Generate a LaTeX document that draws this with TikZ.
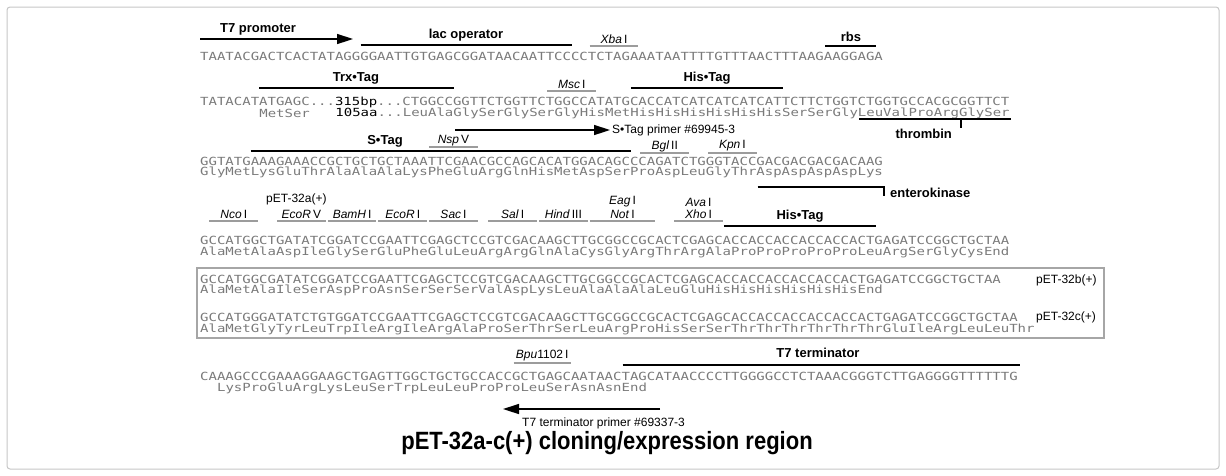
\documentclass[tikz,border=0pt]{standalone}
\usepackage{fontspec}
\setmainfont{Liberation Sans}
\setmonofont{DejaVu Sans Mono}
\usetikzlibrary{arrows.meta}
\definecolor{seqGray}{HTML}{7A7A7A}
\definecolor{siteGray}{HTML}{9C9C9C}
\newcommand{\ox}{200}
\newcommand{\bpw}{8.45}
\newcommand{\sq}[1]{\scalebox{1}[0.8]{#1}}

\begin{document}
\begin{tikzpicture}[x=1pt, y=-1pt,
  seq/.style={anchor=west, inner sep=0pt, text=seqGray, font=\fontsize{14}{14}\ttfamily},
  tag/.style={inner sep=0pt, font=\fontsize{13}{13}\selectfont\bfseries},
  enz/.style={inner sep=0pt, font=\fontsize{12}{12}\selectfont},
  note/.style={inner sep=0pt, anchor=west, font=\fontsize{12}{12}\selectfont},
  tagline/.style={line width=2pt},
  siteline/.style={draw=siteGray, line width=1.6pt},
  primer/.style={line width=1.5pt, -{Triangle[length=16pt,width=10pt]}}]
\useasboundingbox (0,0) rectangle (1226,475);
\draw[gray!45, line width=1pt, rounded corners=3pt] (7,7) rectangle (1219,469);

% sequences
\foreach \y/\txt [count=\i] in {
  56/{TAATACGACTCACTATAGGGGAATTGTGAGCGGATAACAATTCCCCTCTAGAAATAATTTTGTTTAACTTTAAGAAGGAGA},
  102/{TATACATATGAGC...\textcolor{black}{315bp}...CTGGCCGGTTCTGGTTCTGGCCATATGCACCATCATCATCATCATTCTTCTGGTCTGGTGCCACGCGGTTCT},
  161/{GGTATGAAAGAAACCGCTGCTGCTAAATTCGAACGCCAGCACATGGACAGCCCAGATCTGGGTACCGACGACGACGACAAG},
  240/{GCCATGGCTGATATCGGATCCGAATTCGAGCTCCGTCGACAAGCTTGCGGCCGCACTCGAGCACCACCACCACCACCACTGAGATCCGGCTGCTAA},
  279/{GCCATGGCGATATCGGATCCGAATTCGAGCTCCGTCGACAAGCTTGCGGCCGCACTCGAGCACCACCACCACCACCACTGAGATCCGGCTGCTAA},
  317/{GCCATGGGATATCTGTGGATCCGAATTCGAGCTCCGTCGACAAGCTTGCGGCCGCACTCGAGCACCACCACCACCACCACTGAGATCCGGCTGCTAA},
  376/{CAAAGCCCGAAAGGAAGCTGAGTTGGCTGCTGCCACCGCTGAGCAATAACTAGCATAACCCCTTGGGGCCTCTAAACGGGTCTTGAGGGGTTTTTTG}}
  \node[seq] (dna\i) at (\ox,\y) {\sq{\txt}};

\foreach \k/\y/\txt [count=\i] in {
  7/113/{MetSer},
  16/113/{\textcolor{black}{105aa}...LeuAlaGlySerGlySerGlyHisMetHisHisHisHisHisHisSerSerGlyLeuValProArgGlySer},
  0/172/{GlyMetLysGluThrAlaAlaAlaLysPheGluArgGlnHisMetAspSerProAspLeuGlyThrAspAspAspAspLys},
  0/252/{AlaMetAlaAspIleGlySerGluPheGluLeuArgArgGlnAlaCysGlyArgThrArgAlaProProProProProLeuArgSerGlyCysEnd},
  0/290/{AlaMetAlaIleSerAspProAsnSerSerSerValAspLysLeuAlaAlaAlaLeuGluHisHisHisHisHisHisEnd},
  0/329/{AlaMetGlyTyrLeuTrpIleArgIleArgAlaProSerThrSerLeuArgProHisSerSerThrThrThrThrThrThrGluIleArgLeuLeuThr},
  2/388/{LysProGluArgLysLeuSerTrpLeuLeuProProLeuSerAsnAsnEnd}}
  \node[seq] (pep\i) at ({\ox+\bpw*\k},\y) {\sq{\txt}};

% tags
\foreach \a/\b/\y in {19/44/45, 74/80/46, 7/30/88, 51/69/88, 6/51/151, 62/80/226, 50/97/365}
  \draw[tagline] ({\ox+\bpw*\a},\y) -- ({\ox+\bpw*\b},\y);
\node[tag] (t7p) at (258,29) {T7 promoter};
\draw[primer] (200,39) -- (353,39);
\node[tag] (lacop) at (466,35) {lac operator};
\node[tag] (rbs) at (851,37) {rbs};
\node[tag] (trx) at (356,78) {Trx•Tag};
\node[tag] (his1) at (707,78) {His•Tag};
\node[tag] (stag) at (385,141) {S•Tag};
\node[tag] (his2) at (800,216) {His•Tag};
\node[tag] (t7t) at (818,353) {T7 terminator};

% cleavage sites
\draw[tagline] ({\ox+\bpw*78},119) -- ({\ox+\bpw*96},119);
\draw[tagline] ({\ox+\bpw*90},119) -- ({\ox+\bpw*90},128);
\node[tag, anchor=east] (thr) at ({\ox+\bpw*89},134) {thrombin};
\draw[tagline] ({\ox+\bpw*66},187) -- ({\ox+\bpw*81},187) -- ({\ox+\bpw*81},196);
\node[tag, anchor=west] (ek) at (890,193) {enterokinase};

% restriction sites
\foreach \a/\b/\lab/\ly/\uy [count=\i] in {
  46/52/{\textit{Xba}\,I}/39/46,
  41/47/{\textit{Msc}\,I}/84/91,
  27/33/{\textit{Nsp}\,V}/141/147,
  52/58/{\textit{Bgl}\,II}/146/153,
  60/66/{\textit{Kpn}\,I}/146/153,
  1/7/{\textit{Nco}\,I}/214/221,
  9/15/{\textit{EcoR}\,V}/214/221,
  15/21/{\textit{BamH}\,I}/214/221,
  21/27/{\textit{EcoR}\,I}/214/221,
  27/33/{\textit{Sac}\,I}/214/221,
  34/40/{\textit{Sal}\,I}/214/221,
  40/46/{\textit{Hind}\,III}/214/221,
  46/54/{\textit{Not}\,I}/214/221,
  56/62/{\textit{Xho}\,I}/214/221,
  37/44/{\textit{Bpu}1102\,I}/356/363} {
  \draw[siteline] ({\ox+\bpw*\a+1},\uy) -- ({\ox+\bpw*\b-1},\uy);
  \node[enz] (site\i) at ({\ox+\bpw*(\a+\b)/2},\ly) {\lab};
}
\node[enz] (eag) at ({\ox+\bpw*50},202) {\textit{Eag}\,I};
\node[enz] (ava) at ({\ox+\bpw*59},202) {\textit{Ava}\,I};

% primers
\draw[primer] (455,130) -- (610,130);
\node[note] (sprim) at (612,130) {S•Tag primer \#69945-3};
\draw[primer] (660,409) -- (503,409);
\node[note] (tprim) at (522,423) {T7 terminator primer \#69337-3};

% vectors
\node[note] (v32a) at (266,199) {pET-32a(+)};
\draw[gray!70, line width=1.2pt] (197,268) rectangle (1104,338);
\node[note] (v32b) at (1036,280) {pET-32b(+)};
\node[note] (v32c) at (1036,317) {pET-32c(+)};

\node (title) at (607,443) {\scalebox{0.88}[1]{\fontsize{25}{25}\selectfont\bfseries pET-32a-c(+) cloning/expression region}};
\end{tikzpicture}
\end{document}
